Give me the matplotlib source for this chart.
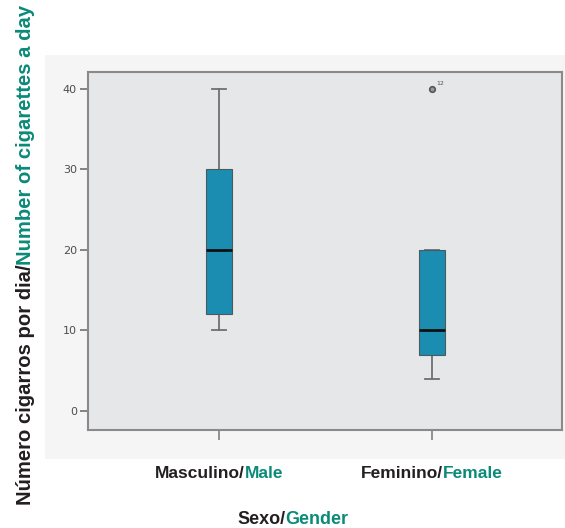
import matplotlib
matplotlib.use("Agg")
import matplotlib.pyplot as plt
from matplotlib.patches import Rectangle

# data
categories = ["Masculino/Male", "Feminino/Female"]
cat_pt = ["Masculino/", "Feminino/"]
cat_en = ["Male", "Female"]
whislo = [10, 4]
q1 = [12, 7]
med = [20, 10]
q3 = [30, 20]
whishi = [40, 20]
fliers = [[], [40]]
flier_ids = [[], ["12"]]
yticks = [0, 10, 20, 30, 40]

BLACK = "#231f20"
TEAL = "#0a8a78"
FONT = ["Liberation Sans", "DejaVu Sans"]

fig = plt.figure(figsize=(5.65, 5.28), dpi=100)
fig.patch.set_facecolor("white")
# faint panel behind the plot area
fig.add_artist(Rectangle((0.08, 0.13), 0.92, 0.765, transform=fig.transFigure,
                         facecolor="#f5f5f5", edgecolor="none", zorder=-5))

ax = fig.add_axes([0.1558, 0.1856, 0.839, 0.678])
ax.set_facecolor("#e6e7e9")

stats = []
for i, name in enumerate(categories):
    stats.append(dict(label=name, whislo=whislo[i], q1=q1[i], med=med[i],
                      q3=q3[i], whishi=whishi[i], fliers=fliers[i]))

ax.bxp(stats, positions=[1, 2], widths=0.12, capwidths=0.065, patch_artist=True,
       boxprops=dict(facecolor="#1a8db0", edgecolor="#4a5a60", linewidth=0.8, zorder=3),
       medianprops=dict(color="#111111", linewidth=2, zorder=4),
       whiskerprops=dict(color="#707070", linewidth=1.3),
       capprops=dict(color="#707070", linewidth=1.3),
       flierprops=dict(marker="o", markersize=4, markerfacecolor="#9a9a9a",
                       markeredgecolor="#555555", markeredgewidth=1.2))

for i, ids in enumerate(flier_ids):
    for v, lab in zip(fliers[i], ids):
        ax.annotate(lab, (i + 1, v), xytext=(3, 3), textcoords="offset points",
                    fontsize=4.5, color="#555555")

ax.set_xlim(0.385, 2.61)
ax.set_ylim(-2.36, 42.1)
ax.set_yticks(yticks)
ax.set_xticks([1, 2])
ax.set_xticklabels(["", ""])
ax.tick_params(axis="y", length=6, width=1.2, color="#707070", labelsize=8,
               labelcolor="#4d4d4d", pad=2)
ax.tick_params(axis="x", length=7, width=1.2, color="#808080")
for s in ax.spines.values():
    s.set_color("#8a8a8a")
    s.set_linewidth(1.5)


def two_tone(x, y, parts, rotation=0, size=12):
    # place coloured pieces one after another, centred on (x, y) in figure coords
    r = fig.canvas.get_renderer()
    texts = [fig.text(0, 0, s, color=c, fontsize=size, fontweight="bold",
                      family=FONT, rotation=rotation, rotation_mode="anchor",
                      ha="left", va="baseline") for s, c in parts]
    W, H = fig.bbox.width, fig.bbox.height
    if rotation == 0:
        lens = [t.get_window_extent(r).width / W for t in texts]
        pos = x - sum(lens) / 2
        for t, l in zip(texts, lens):
            t.set_position((pos, y))
            pos += l
    else:
        lens = [t.get_window_extent(r).height / H for t in texts]
        pos = y - sum(lens) / 2
        for t, l in zip(texts, lens):
            t.set_position((x, pos))
            pos += l


for i in range(len(categories)):
    xd = ax.transData.transform((i + 1, 0))[0] / fig.bbox.width
    two_tone(xd, 1 - 478 / 528, [(cat_pt[i], BLACK), (cat_en[i], TEAL)], size=12.5)

two_tone(293 / 565, 1 - 524 / 528, [("Sexo/", BLACK), ("Gender", TEAL)], size=13)
two_tone(31 / 565, 1 - 255 / 528,
         [("Número cigarros por dia/", BLACK), ("Number of cigarettes a day", TEAL)],
         rotation=90, size=14.6)

fig.savefig("out.png", dpi=100)
